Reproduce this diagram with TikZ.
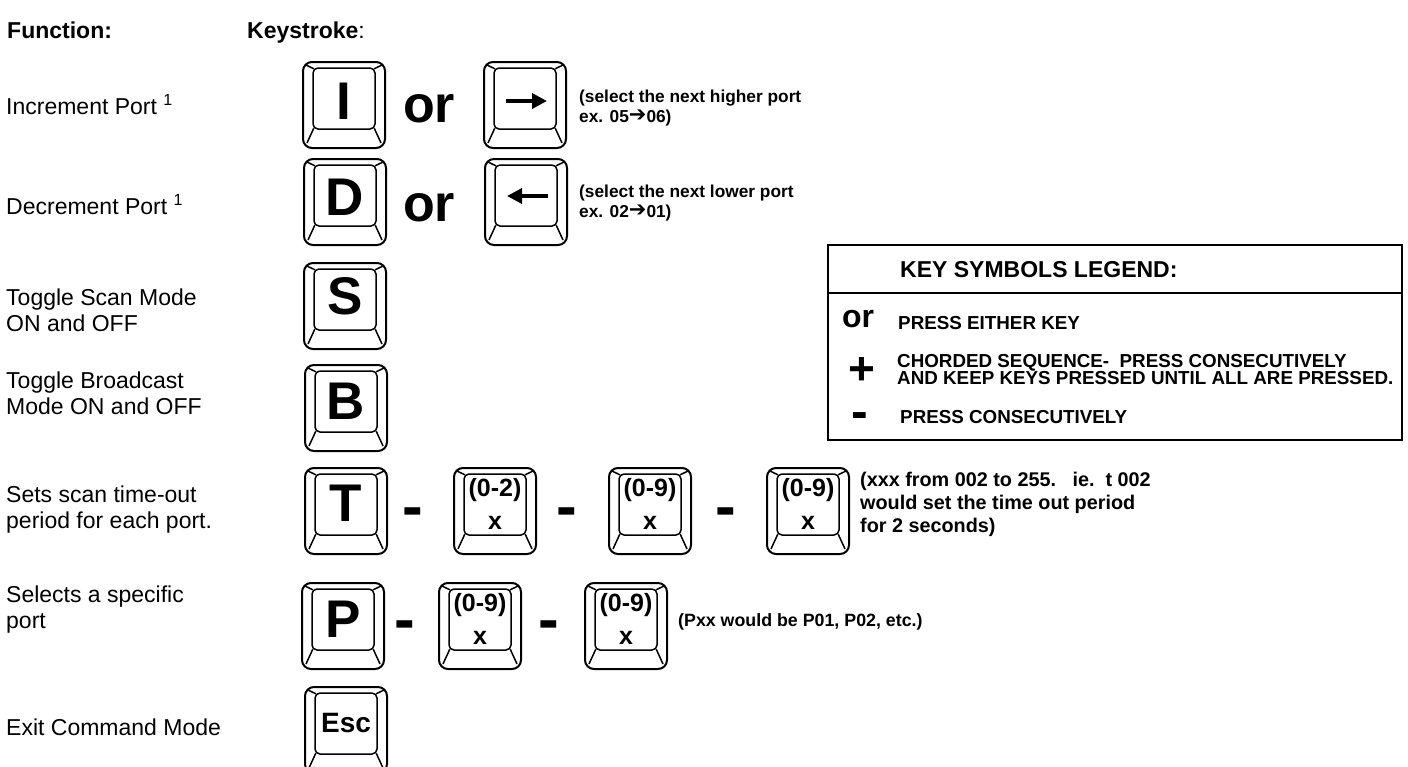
\documentclass[tikz,border=0pt]{standalone}
\usepackage{fontspec}
\setmainfont{Liberation Sans}
\newfontfamily\symfont{DejaVu Sans}
\usetikzlibrary{calc,arrows.meta}

% one key cap: #1 name, #2 centre
\newcommand{\keycap}[2]{%
  \node[keybody] (#1) at (#2) {};
  \node[keyface] (#1f) at ($(#1.center)+(0,-6.5)$) {};
  \draw[bevel] ($(#1.north west)+(4,4)$) -- ($(#1f.north west)+(1.5,1.5)$);
  \draw[bevel] ($(#1.north east)+(-4,4)$) -- ($(#1f.north east)+(-1.5,1.5)$);
  \draw[bevel] ($(#1f.south west)+(1.5,-1.5)$) -- ($(#1.south west)+(5,-6)$);
  \draw[bevel] ($(#1f.south east)+(-1.5,-1.5)$) -- ($(#1.south east)+(-5,-6)$);
}
% a digit key: #1 name, #2 centre, #3 range
\newcommand{\digitkey}[3]{%
  \keycap{#1}{#2}
  \node[digittext] (#1r) at ($(#1.center)+(0,-21)$) {#3};
  \node[digittext] (#1x) at ($(#1.center)+(0,12)$) {x};
}
\newcommand{\portarrow}{{\symfont\bfseries\fontsize{21}{21}\selectfont\raisebox{1pt}{➔}}}

\begin{document}
\begin{tikzpicture}[x=1pt, y=-1pt,
  keybody/.style={draw, line width=2pt, rounded corners=9pt, minimum width=82pt, minimum height=86pt, inner sep=0pt},
  keyface/.style={draw, line width=1.5pt, rounded corners=5pt, minimum width=62pt, minimum height=61pt, inner sep=0pt},
  bevel/.style={line width=1.5pt},
  keyletter/.style={font=\bfseries\fontsize{53}{53}\selectfont, inner sep=0pt},
  digittext/.style={font=\bfseries\fontsize{25}{25}\selectfont, inner sep=0pt},
  ortext/.style={font=\bfseries\fontsize{52}{52}\selectfont, inner sep=0pt},
  seqdash/.style={font=\bfseries\fontsize{62}{62}\selectfont, inner sep=0pt, anchor=base},
  keyarrow/.style={line width=3.5pt, -{Triangle[length=15pt, width=15pt]}},
  heading/.style={anchor=base west, inner sep=0pt, font=\bfseries\fontsize{23}{26}\selectfont},
  rowlabel/.style={anchor=west, align=left, inner sep=0pt, font=\fontsize{23}{26}\selectfont},
  note/.style={anchor=west, align=left, inner sep=0pt, font=\bfseries\fontsize{17.3}{19.5}\selectfont},
  legendtext/.style={anchor=west, align=left, inner sep=0pt, font=\bfseries\fontsize{18.8}{17}\selectfont}]
\useasboundingbox (0,0) rectangle (1408,766);
\clip (0,0) rectangle (1408,766);

% column heads
\node[heading] (fn) at (7,38) {Function:};
\node[heading] (ks) at (247,38) {Keystroke\mdseries:};

% function names
\node[rowlabel] (l1) at (6,105) {Increment Port \textsuperscript{1}};
\node[rowlabel] (l2) at (6,205) {Decrement Port \textsuperscript{1}};
\node[rowlabel] (l3) at (6,310) {Toggle Scan Mode\\ON and OFF};
\node[rowlabel] (l4) at (6,393) {Toggle Broadcast\\Mode ON and OFF};
\node[rowlabel] (l5) at (6,510) {Sets scan time-out\\period for each port.};
\node[rowlabel] (l6) at (6,610) {Selects a specific\\port};
\node[rowlabel] (l7) at (6,727) {Exit Command Mode};

% increment
\keycap{kI}{344,105}
\node[keyletter] (kIl) at ($(kI.center)+(0,-4)$) {I};
\node[ortext] (or1) at (429,109) {or};
\keycap{kR}{525,105}
\draw[keyarrow] ($(kR.center)+(-19,-4)$) -- ($(kR.center)+(22,-4)$);
\node[note] (n1) at (579,108) {(select the next higher port\\ex. 05\portarrow06)};

% decrement
\keycap{kD}{345,202}
\node[keyletter] (kDl) at ($(kD.center)+(0,-5)$) {D};
\node[ortext] (or2) at (429,208) {or};
\keycap{kL}{526,202}
\draw[keyarrow] ($(kL.center)+(22,-6)$) -- ($(kL.center)+(-19,-6)$);
\node[note] (n2) at (579,203) {(select the next lower port\\ex. 02\portarrow01)};

% scan and broadcast
\keycap{kS}{345,306}
\node[keyletter] (kSl) at ($(kS.center)+(0,-10)$) {S};
\keycap{kB}{346,408}
\node[keyletter] (kBl) at ($(kB.center)+(0,-7)$) {B};

% time-out
\keycap{kT}{346,511}
\node[keyletter] (kTl) at ($(kT.center)+(0,-8)$) {T};
\node[seqdash] (d1) at (413,527) {-};
\digitkey{kTa}{495,511}{(0-2)}
\node[seqdash] (d2) at (567,527) {-};
\digitkey{kTb}{650,511}{(0-9)}
\node[seqdash] (d3) at (726,527) {-};
\digitkey{kTc}{808,511}{(0-9)}
\node[note, font=\bfseries\fontsize{19.8}{23}\selectfont] (n5) at (860,504) {(xxx from 002 to 255.\ \ \ ie.\ \ t 002\\would set the time out period\\for 2 seconds)};

% port
\keycap{kP}{343,626}
\node[keyletter] (kPl) at ($(kP.center)+(0,-7)$) {P};
\node[seqdash] (d4) at (405,640) {-};
\digitkey{kPa}{480,626}{(0-9)}
\node[seqdash] (d5) at (549,640) {-};
\digitkey{kPb}{626,626}{(0-9)}
\node[note, font=\bfseries\fontsize{17.8}{20}\selectfont] (n6) at (678,622) {(Pxx would be P01, P02, etc.)};

% exit
\keycap{kE}{346,730}
\node[keyletter, font=\bfseries\fontsize{28}{28}\selectfont] (kEl) at ($(kE.center)+(0,-7)$) {Esc};

% legend
\draw[line width=1.5pt] (828,245) rectangle (1402,440);
\draw[line width=1.5pt] (828,293) -- (1402,293);
\node[heading, anchor=west] (lh) at (900,270) {KEY SYMBOLS LEGEND:};
\node[ortext, font=\bfseries\fontsize{32}{32}\selectfont] (lor) at (858,319) {or};
\node[legendtext] (lt1) at (898,323) {PRESS EITHER KEY};
\node[ortext, font=\bfseries\fontsize{46}{46}\selectfont] (lplus) at (862,371) {+};
\node[legendtext] (lt2) at (897,370) {CHORDED SEQUENCE-\ \ PRESS CONSECUTIVELY\\AND KEEP KEYS PRESSED UNTIL ALL ARE PRESSED.};
\node[seqdash, font=\bfseries\fontsize{50}{50}\selectfont] (ldash) at (860,428) {-};
\node[legendtext] (lt3) at (900,417) {PRESS CONSECUTIVELY};
\end{tikzpicture}
\end{document}
